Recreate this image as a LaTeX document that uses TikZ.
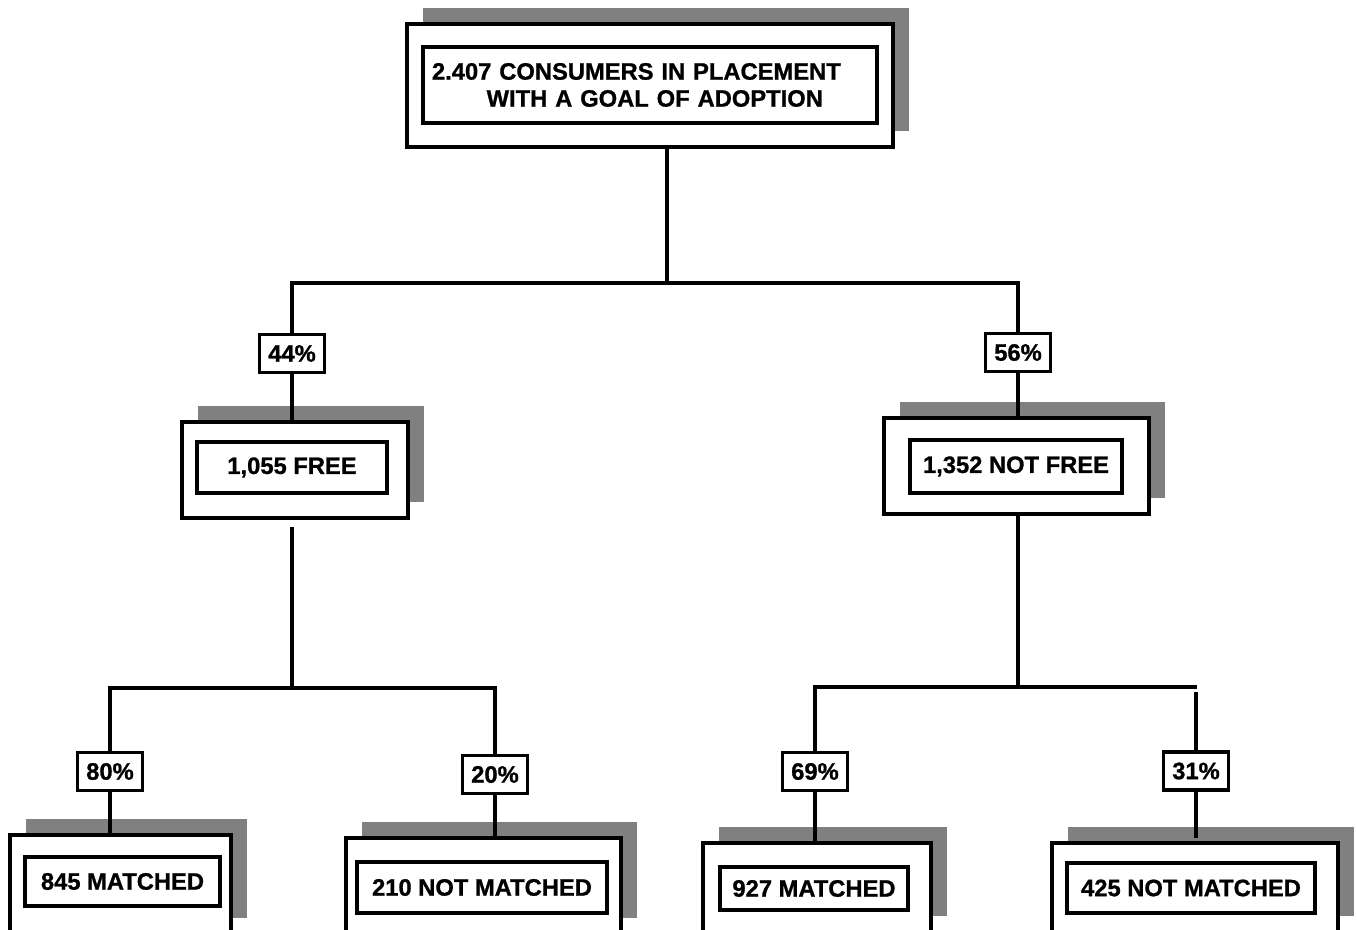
\documentclass[tikz,border=0pt]{standalone}
\usepackage{fontspec}
\setmainfont{Liberation Sans}[BoldFeatures={FakeBold=1}]
\usetikzlibrary{shadows}
\definecolor{shadowgray}{RGB}{128,128,128}
\newcommand\rbox[6]{\node[#1, minimum width={(#5-#3)*0.75pt}, minimum height={(#6-#4)*0.75pt}] (#2) at ({(#3+#5)/2},{(#4+#6)/2})}
\begin{document}
\begin{tikzpicture}[x=0.75pt,y=-0.75pt,
  outerbox/.style={draw, line width=2.6pt, fill=white, outer sep=0pt, inner sep=0pt,
     drop shadow={shadow xshift=12pt, shadow yshift=12pt, fill=shadowgray, opacity=1}},
  innerbox/.style={draw, line width=2.3pt, fill=white, outer sep=0pt, inner sep=0pt,
     font=\fontsize{17.8}{20.25}\selectfont\bfseries},
  pctbox/.style={draw, line width=2.3pt, fill=white, outer sep=0pt, inner sep=0pt,
     minimum width=48.75pt, minimum height=28.5pt, font=\fontsize{17.8}{20.25}\selectfont\bfseries},
  link/.style={line width=2.3pt}
]
\useasboundingbox (0,0) rectangle (1357,930);
\clip (0,0) rectangle (1357,930);

% junctions and free ends
\coordinate (j0) at (667,283);
\coordinate (fD) at (292,527);
\coordinate (lb) at (292,688);
\coordinate (rb) at (1018,687);
\coordinate (re) at (1197,687);
\coordinate (rs) at (1196,692);
\coordinate (r31e) at (1196,838);

% top
\rbox{outerbox}{topO}{407}{24}{893}{147} {};
\node[innerbox, anchor=north west, minimum height=57pt, text width=327pt, inner xsep=6.75pt, align=left]
  (top) at (423,47) {2.407 CONSUMERS IN PLACEMENT\\\hspace*{41pt}WITH A GOAL OF ADOPTION};

% middle
\rbox{outerbox}{freeO}{182}{422}{408}{518} {};
\rbox{innerbox}{free}{197}{442}{387}{493} {1,055 FREE};
\rbox{outerbox}{nfO}{884}{418}{1149}{514} {};
\rbox{innerbox}{nf}{910}{440}{1122}{493} {1,352 NOT FREE};

% bottom
\rbox{outerbox}{m845O}{10}{835}{231}{934} {};
\rbox{innerbox}{m845}{25}{857}{220}{906} {845 MATCHED};
\rbox{outerbox}{n210O}{346}{838}{621}{934} {};
\rbox{innerbox}{n210}{357}{862}{607}{913} {210 NOT MATCHED};
\rbox{outerbox}{m927O}{703}{843}{931}{932} {};
\rbox{innerbox}{m927}{720}{867}{908}{910} {927 MATCHED};
\rbox{outerbox}{n425O}{1052}{843}{1338}{932} {};
\rbox{innerbox}{n425}{1067}{863}{1315}{913} {425 NOT MATCHED};

% percentages
\node[pctbox] (p44) at (292,353.5) {44\%};
\node[pctbox] (p56) at (1018,352.5) {56\%};
\node[pctbox] (p80) at (110,771.5) {80\%};
\node[pctbox] (p20) at (495,774.5) {20\%};
\node[pctbox] (p69) at (815,771.5) {69\%};
\node[pctbox] (p31) at (1196,771) {31\%};

% connectors
\draw[link] (topO.south -| j0) -- (j0);
\draw[link] (p44.north) |- (j0) -| (p56.north);
\draw[link] (p44.south) -- (p44.south |- freeO.north);
\draw[link] (p56.south) -- (p56.south |- nfO.north);

\draw[link] (fD) -- (lb);
\draw[link] (p80.north) |- (lb) -| (p20.north);
\draw[link] (p80.south) -- (p80.south |- m845O.north);
\draw[link] (p20.south) -- (p20.south |- n210O.north);

\draw[link] (nfO.south -| rb) -- (rb);
\draw[link] (p69.north) |- (re);
\draw[link] (rs) -- (p31.north);
\draw[link] (p69.south) -- (p69.south |- m927O.north);
\draw[link] (p31.south) -- (r31e);
\end{tikzpicture}
\end{document}
